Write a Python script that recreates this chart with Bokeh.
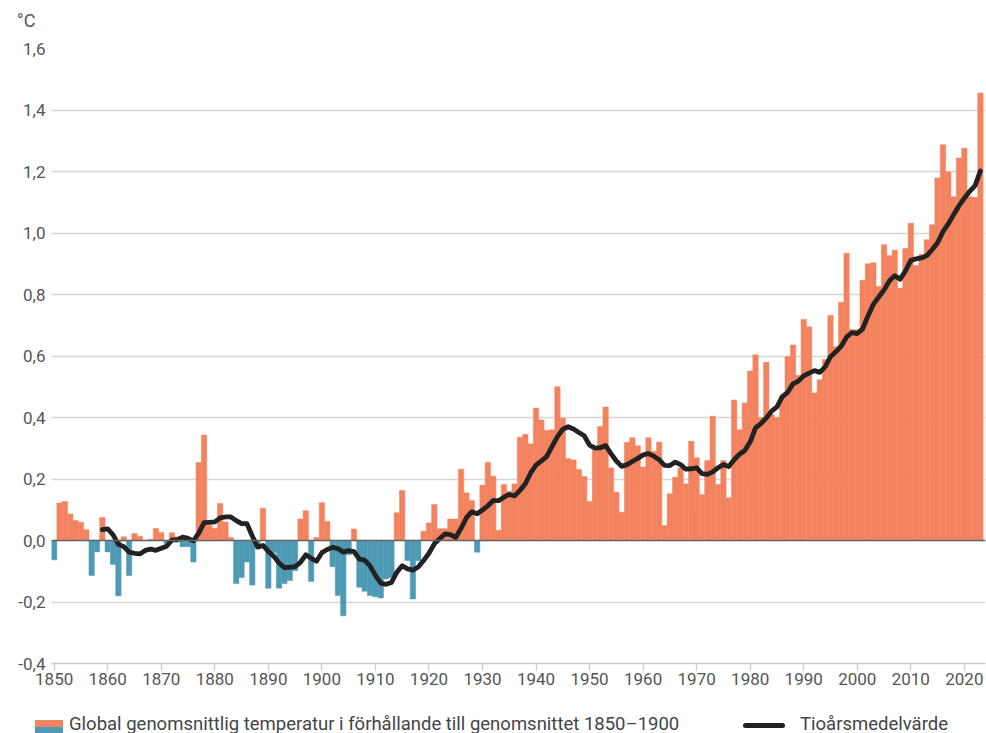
import pandas as pd
from bokeh.plotting import figure
from bokeh.layouts import column
from bokeh.models import (Range1d, FixedTicker, CustomJSTickFormatter, Span,
                          ColumnDataSource, Div)
from bokeh.embed import file_html
from bokeh.resources import INLINE

# ---------------- data ----------------
first_year = 1850
anomaly = [
    -0.063, 0.122, 0.127, 0.086, 0.065, 0.059, 0.035, -0.114, -0.037, 0.075,   # 1850-1859
    -0.037, -0.078, -0.180, 0.012, -0.114, 0.023, 0.014, 0.000, 0.003, 0.039,  # 1860-1869
    0.026, -0.010, 0.025, 0.012, -0.020, -0.020, -0.070, 0.254, 0.343, 0.050,  # 1870-1879
    0.040, 0.120, 0.060, 0.010, -0.140, -0.120, -0.070, -0.145, -0.020, 0.105, # 1880-1889
    -0.155, -0.040, -0.155, -0.140, -0.130, -0.098, 0.070, 0.097, -0.133, 0.010,  # 1890-1899
    0.123, 0.062, -0.085, -0.179, -0.245, -0.046, 0.037, -0.152, -0.165, -0.179,  # 1900-1909
    -0.183, -0.187, -0.125, -0.120, 0.090, 0.163, -0.065, -0.190, -0.066, 0.030,  # 1910-1919
    0.057, 0.117, 0.038, 0.038, 0.070, 0.070, 0.232, 0.155, 0.130, -0.038,     # 1920-1929
    0.180, 0.254, 0.209, 0.033, 0.182, 0.160, 0.184, 0.336, 0.345, 0.314,      # 1930-1939
    0.431, 0.392, 0.358, 0.360, 0.500, 0.398, 0.266, 0.262, 0.231, 0.208,      # 1940-1949
    0.127, 0.293, 0.371, 0.434, 0.236, 0.157, 0.092, 0.319, 0.334, 0.308,      # 1950-1959
    0.239, 0.334, 0.290, 0.320, 0.049, 0.152, 0.206, 0.236, 0.184, 0.323,      # 1960-1969
    0.269, 0.149, 0.260, 0.404, 0.182, 0.260, 0.139, 0.457, 0.360, 0.447,      # 1970-1979
    0.551, 0.604, 0.400, 0.580, 0.410, 0.400, 0.470, 0.598, 0.636, 0.537,      # 1980-1989
    0.719, 0.695, 0.480, 0.523, 0.589, 0.732, 0.630, 0.775, 0.934, 0.686,      # 1990-1999
    0.686, 0.846, 0.900, 0.903, 0.826, 0.962, 0.926, 0.944, 0.821, 0.950,      # 2000-2009
    1.032, 0.894, 0.930, 0.978, 1.027, 1.179, 1.287, 1.199, 1.118, 1.244,      # 2010-2019
    1.276, 1.118, 1.116, 1.455,                                                # 2020-2023
]
years = list(range(first_year, first_year + len(anomaly)))
x_ticks = list(range(1850, 2021, 10))
y_ticks = [-0.4, -0.2, 0.0, 0.2, 0.4, 0.6, 0.8, 1.0, 1.2, 1.4, 1.6]
bar_label = "Global genomsnittlig temperatur i förhållande till genomsnittet 1850–1900"
line_label = "Tioårsmedelvärde"
unit_label = "°C"

# ten-year mean (trailing) of the annual values, as in the chart
ten_year = pd.Series(anomaly).rolling(10).mean()

ORANGE = "#F3835F"
BLUE = "#4E9AB4"
FONT = "Roboto"
TXT = "#555555"

colors = [ORANGE if v >= 0 else BLUE for v in anomaly]
bars = ColumnDataSource(dict(x=years, top=anomaly, color=colors))
mean_src = ColumnDataSource(dict(x=[y for y, m in zip(years, ten_year) if pd.notna(m)],
                                 y=[m for m in ten_year if pd.notna(m)]))

W = 986

# ---- unit strip (°C) ----
top_div = Div(width=W, height=30, margin=(0, 0, 0, 0), text=(
    '<div style="position:relative;width:986px;height:30px;">'
    f'<span style="position:absolute;left:17px;top:12px;font-family:{FONT};'
    f'font-size:18px;line-height:18px;color:{TXT};white-space:nowrap;">{unit_label}</span>'
    '</div>'))

# ---- main chart ----
p = figure(width=W, height=675, x_range=Range1d(1849.5, 2023.95),
           y_range=Range1d(-0.4, 1.6), output_backend="svg", toolbar_location=None,
           min_border_left=51, min_border_right=1, min_border_top=18, min_border_bottom=42,
           margin=(0, 0, 0, 0))
p.outline_line_color = None
p.background_fill_color = "white"

p.vbar(x="x", top="top", bottom=0, width=1.0, fill_color="color", line_color="color",
       line_width=0.5, source=bars)

p.add_layout(Span(location=0, dimension="width", line_color="#666666", line_width=1.5))

p.line(x="x", y="y", source=mean_src, line_color="#222222", line_width=4.8,
       line_join="round", line_cap="round")

p.xaxis.ticker = FixedTicker(ticks=x_ticks)
p.xaxis.axis_line_color = "#cccccc"
p.xaxis.axis_line_width = 1.3
p.xaxis.major_tick_line_color = "#cccccc"
p.xaxis.major_tick_line_width = 1.3
p.xaxis.major_tick_out = 7
p.xaxis.major_tick_in = 0
p.xaxis.minor_tick_line_color = None
p.xaxis.major_label_standoff = 2
p.xaxis.major_label_text_font = FONT
p.xaxis.major_label_text_font_size = "17px"
p.xaxis.major_label_text_color = TXT

p.yaxis.ticker = FixedTicker(ticks=y_ticks)
p.yaxis.formatter = CustomJSTickFormatter(code="return tick.toFixed(1).replace('.', ',');")
p.yaxis.axis_line_color = None
p.yaxis.major_tick_line_color = None
p.yaxis.minor_tick_line_color = None
p.yaxis.major_tick_out = 0
p.yaxis.major_tick_in = 0
p.yaxis.major_label_standoff = 6
p.yaxis.major_label_text_font = FONT
p.yaxis.major_label_text_font_size = "17px"
p.yaxis.major_label_text_color = TXT

p.xgrid.visible = False
p.ygrid.ticker = FixedTicker(ticks=y_ticks)
p.ygrid.grid_line_color = "#d6d6d6"
p.ygrid.grid_line_width = 1.3

# ---- legend strip ----
txt_style = (f"position:absolute;top:9.5px;font-family:{FONT};font-size:18.5px;"
             "line-height:18.5px;color:#444444;white-space:nowrap;")
legend_div = Div(width=W, height=28, margin=(0, 0, 0, 0), text=(
    '<div style="position:relative;width:986px;height:28px;overflow:hidden;">'
    f'<div style="position:absolute;left:35px;top:15px;width:28px;height:7px;background:{ORANGE};"></div>'
    f'<div style="position:absolute;left:35px;top:22px;width:28px;height:6px;background:{BLUE};"></div>'
    f'<span style="left:69px;{txt_style}">{bar_label}</span>'
    '<div style="position:absolute;left:743px;top:18px;width:42px;height:5px;'
    'border-radius:2.5px;background:#222222;"></div>'
    f'<span style="left:800px;{txt_style}">{line_label}</span>'
    '</div>'))

layout = column(top_div, p, legend_div, spacing=0)
open("out.html", "w").write(file_html(layout, INLINE))
